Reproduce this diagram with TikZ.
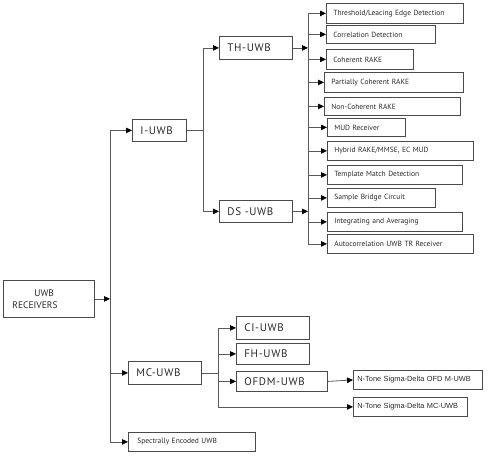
\documentclass[tikz,border=0pt]{standalone}
\usepackage{fontspec}
\setmainfont{PT Sans}
\newfontfamily\arialfont{Liberation Sans}
\usetikzlibrary{arrows.meta}
\definecolor{boxc}{HTML}{4A4A4A}
\definecolor{wirec}{HTML}{5A5A5A}
\definecolor{txtc}{HTML}{2A2A2A}
\begin{document}
\begin{tikzpicture}[x=1pt,y=-1pt,
  box/.style={draw=boxc,line width=0.8pt,anchor=north west,inner ysep=0pt,align=left,text=txtc},
  bigbox/.style={box,inner xsep=8pt,font=\fontsize{11}{12}\selectfont\addfontfeature{LetterSpace=6}},
  leafbox/.style={box,inner xsep=7pt,font=\fontsize{7.5}{9}\selectfont},
  tonebox/.style={box,inner xsep=4pt,font=\fontsize{7.4}{9}\selectfont\arialfont},
  wire/.style={draw=wirec,line width=0.8pt},
  arr/.style={wire,-{Triangle[length=6pt,width=5.5pt,fill=black,color=black]}}]
\path[use as bounding box] (0,0) rectangle (500,455);
% root
\node[box,anchor=north west,text width=73pt,inner xsep=9pt,minimum height=37pt,font=\fontsize{9.5}{12}\selectfont] (root) at (3,280) {\hspace*{22pt}UWB\\RECEIVERS};
% second level
\node[bigbox,text width=38pt,minimum height=22pt] (iuwb) at (132,119) {I-UWB};
\node[bigbox,text width=57pt,minimum height=23pt] (mcuwb) at (128,361) {MC-UWB};
\node[box,inner xsep=9pt,text width=109pt,minimum height=19pt,font=\fontsize{7.5}{8}\selectfont] (spec) at (128,432) {Spectrally Encoded UWB};
% I-UWB branch
\node[bigbox,text width=57pt,minimum height=23pt] (th) at (219,36) {TH-UWB};
\node[bigbox,text width=57pt,minimum height=22pt] (ds) at (219,200) {DS -UWB};
\node[leafbox,text width=123pt,minimum height=20pt] (l1) at (326,3) {Threshold/Leacing Edge Detection};
\node[leafbox,text width=95pt,minimum height=18pt] (l2) at (326,25) {Correlation Detection};
\node[leafbox,text width=73pt,minimum height=20pt] (l3) at (326,49) {Coherent RAKE};
\node[leafbox,text width=125pt,minimum height=20pt] (l4) at (324,72) {Partially Coherent RAKE};
\node[leafbox,text width=122pt,minimum height=18pt] (l5) at (324,97) {Non-Coherent RAKE};
\node[leafbox,text width=64pt,minimum height=18pt] (l6) at (327,118) {MUD Receiver};
\node[leafbox,text width=132pt,minimum height=19pt] (l7) at (327,141) {Hybrid RAKE/MMSE, EC MUD};
\node[leafbox,text width=121pt,minimum height=19pt] (l8) at (327,165) {Template Match Detection};
\node[leafbox,text width=94pt,minimum height=19pt] (l9) at (327,188) {Sample Bridge Circuit};
\node[leafbox,text width=121pt,minimum height=19pt] (l10) at (327,212) {Integrating and Averaging};
\node[leafbox,text width=132pt,minimum height=19pt] (l11) at (327,234) {Autocorrelation UWB TR Receiver};
% MC-UWB branch
\node[bigbox,text width=57pt,minimum height=23pt] (ci) at (236,316) {CI-UWB};
\node[bigbox,text width=57pt,minimum height=21pt] (fh) at (236,343) {FH-UWB};
\node[bigbox,text width=75pt,minimum height=20pt] (ofdm) at (236,371) {OFDM-UWB};
\node[tonebox,text width=121pt,minimum height=19pt] (ntofdm) at (353,370) {N-Tone Sigma-Delta OFD M-UWB};
\node[tonebox,text width=106pt,minimum height=19pt] (ntmc) at (353,397) {N-Tone Sigma-Delta MC-UWB};
% buses
\coordinate (trunktop) at (110,130);
\coordinate (trunkbot) at (110,441.5);
\coordinate (ibustop) at (203,47.5);
\coordinate (ibusbot) at (203,211);
\coordinate (lbustop) at (308,13);
\coordinate (lbusbot) at (308,243.5);
\coordinate (mbustop) at (218,327.5);
\coordinate (mbusbot) at (218,406.5);
\draw[wire] (trunktop) -- (trunkbot);
\draw[wire] (ibustop) -- (ibusbot);
\draw[wire] (lbustop) -- (lbusbot);
\draw[wire] (mbustop) -- (mbusbot);
% connectors
\draw[arr] (root.east) -- (root.east -| trunktop);
\draw[arr] (iuwb.west -| trunktop) -- (iuwb.west);
\draw[arr] (mcuwb.west -| trunktop) -- (mcuwb.west);
\draw[arr] (spec.west -| trunktop) -- (spec.west);
\draw[wire] (iuwb.east) -- (iuwb.east -| ibustop);
\draw[arr] (th.west -| ibustop) -- (th.west);
\draw[arr] (ds.west -| ibustop) -- (ds.west);
\draw[arr] (th.east) -- (th.east -| lbustop);
\draw[arr] (ds.east) -- (ds.east -| lbustop);
\draw[arr] (l1.west -| lbustop) -- (l1.west);
\draw[arr] (l2.west -| lbustop) -- (l2.west);
\draw[arr] (l3.west -| lbustop) -- (l3.west);
\draw[arr] (l4.west -| lbustop) -- (l4.west);
\draw[arr] (l5.west -| lbustop) -- (l5.west);
\draw[arr] (l6.west -| lbustop) -- (l6.west);
\draw[arr] (l7.west -| lbustop) -- (l7.west);
\draw[arr] (l8.west -| lbustop) -- (l8.west);
\draw[arr] (l9.west -| lbustop) -- (l9.west);
\draw[arr] (l10.west -| lbustop) -- (l10.west);
\draw[arr] (l11.west -| lbustop) -- (l11.west);
\draw[wire] (mcuwb.east) -- (mcuwb.east -| mbustop);
\draw[arr] (ci.west -| mbustop) -- (ci.west);
\draw[arr] (fh.west -| mbustop) -- (fh.west);
\draw[arr] (ofdm.west -| mbustop) -- (ofdm.west);
\draw[arr] (ntmc.west -| mbustop) -- (ntmc.west);
\draw[arr] (ofdm.east) -- (ntofdm.west);
\end{tikzpicture}
\end{document}
